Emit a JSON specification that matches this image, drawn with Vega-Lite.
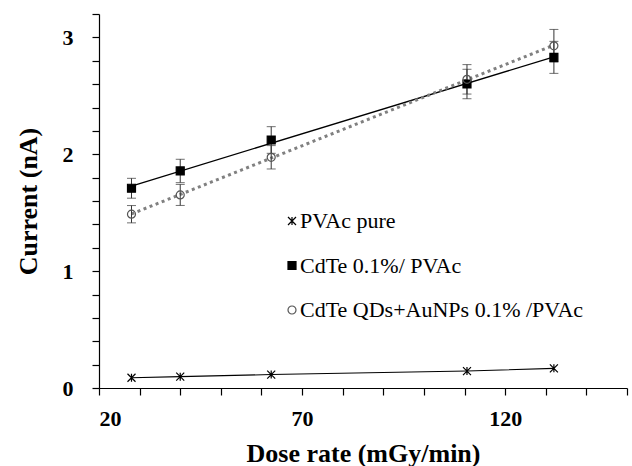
{
  "$schema": "https://vega.github.io/schema/vega-lite/v6.json",
  "width": 528,
  "height": 374,
  "autosize": {"type": "none"},
  "padding": {"left": 99, "top": 14, "right": 5, "bottom": 78},
  "background": "white",
  "config": {
    "view": {"stroke": null},
    "font": "Liberation Serif",
    "axis": {
      "labelFont": "Liberation Serif",
      "titleFont": "Liberation Serif",
      "labelColor": "black",
      "titleColor": "black",
      "domainColor": "black",
      "tickColor": "black",
      "grid": false
    },
    "legend": {
      "labelFont": "Liberation Serif",
      "labelFontSize": 22,
      "labelColor": "black",
      "labelLimit": 400
    }
  },
  "data": {
    "values": [
      {"series": "PVAc pure", "dose": 28, "current": 0.088},
      {"series": "PVAc pure", "dose": 40, "current": 0.097},
      {"series": "PVAc pure", "dose": 62.4, "current": 0.115},
      {"series": "PVAc pure", "dose": 110.6, "current": 0.145},
      {"series": "PVAc pure", "dose": 132, "current": 0.168},
      {"series": "CdTe 0.1%/ PVAc", "dose": 28, "current": 1.709, "err": 0.085},
      {"series": "CdTe 0.1%/ PVAc", "dose": 40, "current": 1.857, "err": 0.1},
      {"series": "CdTe 0.1%/ PVAc", "dose": 62.4, "current": 2.122, "err": 0.114},
      {"series": "CdTe 0.1%/ PVAc", "dose": 110.6, "current": 2.601, "err": 0.126},
      {"series": "CdTe 0.1%/ PVAc", "dose": 132, "current": 2.829, "err": 0.137},
      {"series": "CdTe QDs+AuNPs 0.1% /PVAc", "dose": 28, "current": 1.487, "err": 0.074},
      {"series": "CdTe QDs+AuNPs 0.1% /PVAc", "dose": 40, "current": 1.652, "err": 0.09},
      {"series": "CdTe QDs+AuNPs 0.1% /PVAc", "dose": 62.4, "current": 1.974, "err": 0.1},
      {"series": "CdTe QDs+AuNPs 0.1% /PVAc", "dose": 110.6, "current": 2.641, "err": 0.126},
      {"series": "CdTe QDs+AuNPs 0.1% /PVAc", "dose": 132, "current": 2.928, "err": 0.14}
    ]
  },
  "encoding": {
    "x": {
      "field": "dose", "type": "quantitative",
      "scale": {"domain": [20, 150], "nice": false},
      "title": "Dose rate (mGy/min)",
      "axis": {
        "values": [20, 30, 40, 50, 60, 70, 80, 90, 100, 110, 120, 130, 140, 150],
        "labelExpr": "datum.value % 50 === 20 ? '' + datum.value : ''",
        "labelFontSize": 22, "labelFontWeight": "bold",
        "titleFontSize": 26, "titleFontWeight": "bold",
        "tickSize": 7, "labelPadding": 13, "titlePadding": 11,
        "domainWidth": 1.2, "tickWidth": 1.2
      }
    },
    "y": {
      "field": "current", "type": "quantitative",
      "scale": {"domain": [0, 3.2], "nice": false},
      "title": "Current (nA)",
      "axis": {
        "values": [0, 0.2, 0.4, 0.6, 0.8, 1, 1.2, 1.4, 1.6, 1.8, 2, 2.2, 2.4, 2.6, 2.8, 3, 3.2],
        "labelExpr": "datum.value % 1 === 0 ? '' + datum.value : ''",
        "labelFontSize": 22, "labelFontWeight": "bold",
        "titleFontSize": 26, "titleFontWeight": "bold",
        "tickSize": 7, "labelPadding": 19, "titlePadding": 21,
        "domainWidth": 1.2, "tickWidth": 1.2
      }
    }
  },
  "layer": [
    {
      "transform": [{"filter": "datum.series === 'PVAc pure'"}],
      "mark": {"type": "line", "color": "black", "strokeWidth": 1.1},
      "encoding": {}
    },
    {
      "transform": [
        {"filter": "datum.series === 'CdTe 0.1%/ PVAc'"},
        {"regression": "current", "on": "dose"}
      ],
      "mark": {"type": "line", "color": "black", "strokeWidth": 1.3},
      "encoding": {}
    },
    {
      "transform": [
        {"filter": "datum.series === 'CdTe QDs+AuNPs 0.1% /PVAc'"},
        {"regression": "current", "on": "dose"}
      ],
      "mark": {"type": "line", "color": "#808080", "strokeWidth": 3, "strokeDash": [3, 3.5]},
      "encoding": {}
    },
    {
      "transform": [{"filter": "datum.err != null"}],
      "mark": {"type": "errorbar", "ticks": {"size": 9, "color": "#333"}, "rule": {"color": "#333", "strokeWidth": 1}},
      "encoding": {
        "yError": {"field": "err"}
      }
    },
    {
      "mark": {"type": "point", "strokeWidth": 1.2, "opacity": 1},
      "encoding": {
        "shape": {
          "field": "series", "type": "nominal",
          "scale": {
            "domain": ["PVAc pure", "CdTe 0.1%/ PVAc", "CdTe QDs+AuNPs 0.1% /PVAc"],
            "range": ["M-1,-1L1,1M-1,1L1,-1M0,-1L0,1", "square", "circle"]
          },
          "legend": {
            "title": null, "orient": "none", "legendX": 182, "legendY": 196,
            "rowPadding": 22.5, "labelOffset": -3, "padding": 0, "symbolStrokeWidth": 1.2
          }
        },
        "fill": {
          "field": "series", "type": "nominal",
          "scale": {
            "domain": ["PVAc pure", "CdTe 0.1%/ PVAc", "CdTe QDs+AuNPs 0.1% /PVAc"],
            "range": ["transparent", "black", "transparent"]
          },
          "legend": {
            "title": null, "orient": "none", "legendX": 182, "legendY": 196,
            "rowPadding": 22.5, "labelOffset": -3, "padding": 0, "symbolStrokeWidth": 1.2
          }
        },
        "stroke": {
          "field": "series", "type": "nominal",
          "scale": {
            "domain": ["PVAc pure", "CdTe 0.1%/ PVAc", "CdTe QDs+AuNPs 0.1% /PVAc"],
            "range": ["black", "black", "#555555"]
          },
          "legend": {
            "title": null, "orient": "none", "legendX": 182, "legendY": 196,
            "rowPadding": 22.5, "labelOffset": -3, "padding": 0, "symbolStrokeWidth": 1.2
          }
        },
        "size": {
          "field": "series", "type": "nominal",
          "scale": {
            "domain": ["PVAc pure", "CdTe 0.1%/ PVAc", "CdTe QDs+AuNPs 0.1% /PVAc"],
            "range": [64, 64, 56]
          },
          "legend": {
            "title": null, "orient": "none", "legendX": 182, "legendY": 196,
            "rowPadding": 22.5, "labelOffset": -3, "padding": 0, "symbolStrokeWidth": 1.2
          }
        }
      }
    }
  ]
}
